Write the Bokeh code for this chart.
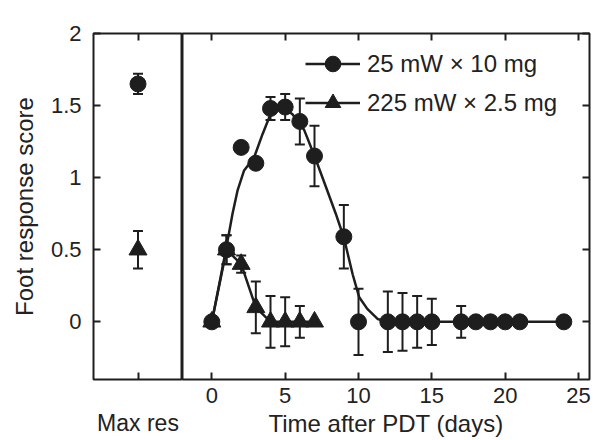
from bokeh.plotting import figure
from bokeh.models import (Range1d, FixedTicker, LinearAxis, Whisker, TeeHead,
                          ColumnDataSource, Legend, LegendItem)
from bokeh.layouts import row
from bokeh.embed import file_html
from bokeh.resources import INLINE

# ---------------- data ----------------
days_circle = [0, 1, 2, 3, 4, 5, 6, 7, 9, 10, 12, 13, 14, 15, 17, 18, 19, 20, 21, 24]
score_circle = [0, 0.5, 1.21, 1.1, 1.48, 1.49, 1.39, 1.15, 0.59, 0, 0, 0, 0, 0, 0, 0, 0, 0, 0, 0]
err_circle = [0, 0.1, 0, 0, 0.08, 0.09, 0.16, 0.21, 0.22, 0.23, 0.21, 0.2, 0.18, 0.16, 0.11, 0, 0, 0, 0, 0]

days_tri = [0, 1, 2, 3, 4, 5, 6, 7]
score_tri = [0, 0.5, 0.4, 0.1, 0, 0, 0, 0]
err_tri = [0, 0.1, 0.06, 0.18, 0.18, 0.17, 0.11, 0]

# smooth curve drawn through the 25 mW x 10 mg series
fit_days = [0, 0.6, 1.07, 1.41, 1.75, 2.2, 2.88, 3.45, 4.0, 4.8, 5.5, 6.3, 7.0, 7.8,
            8.45, 9.0, 9.6, 10.05, 10.6, 11.3, 12, 24]
fit_score = [0, 0.31, 0.56, 0.75, 0.91, 1.05, 1.14, 1.30, 1.44, 1.49, 1.44, 1.33, 1.15,
             0.93, 0.75, 0.585, 0.33, 0.17, 0.09, 0.02, 0, 0]

max_res_label = "Max res"
max_res_circle = [1.65]
max_res_circle_err = [0.07]
max_res_tri = [0.5]
max_res_tri_err = [0.13]

series_labels = ["25 mW \u00d7 10 mg", "225 mW \u00d7 2.5 mg"]
y_ticks = [0, 0.5, 1, 1.5, 2]
y_tick_labels = ["0", "0.5", "1", "1.5", "2"]
x_ticks = [0, 5, 10, 15, 20, 25]

# ---------------- styling ----------------
FONT = "Liberation Sans"
INK = "#1e1e1e"
TXT = "#222222"
TICK_FS = "22px"
TITLE_FS = "24px"
LW = 2.5

def style_axis(ax, labels=True):
    ax.major_tick_in = 7
    ax.major_tick_out = 0
    ax.minor_tick_in = 0
    ax.minor_tick_out = 0
    ax.major_tick_line_width = 2
    ax.major_tick_line_color = INK
    ax.axis_line_color = None
    ax.major_label_text_font = FONT
    ax.major_label_text_color = TXT
    ax.major_label_text_line_height = 1.0
    ax.axis_label_text_font = FONT
    ax.axis_label_text_color = TXT
    ax.axis_label_text_font_style = "normal"
    ax.axis_label_text_font_size = TITLE_FS
    ax.axis_label_text_line_height = 1.0
    if labels:
        ax.major_label_text_font_size = TICK_FS
    else:
        ax.major_label_text_font_size = "0px"
        ax.major_label_standoff = 0

def common(p):
    p.outline_line_color = INK
    p.outline_line_width = 2
    p.outline_line_alpha = 1
    p.xgrid.visible = False
    p.ygrid.visible = False
    p.background_fill_color = "white"
    p.border_fill_color = "white"

# ---------------- left panel (Max res) ----------------
p1 = figure(width=182, height=440, x_range=Range1d(0, 1), y_range=Range1d(-0.4, 2),
            output_backend="svg", toolbar_location=None,
            min_border_left=93, min_border_right=0, min_border_top=33, min_border_bottom=61)
common(p1)

yax = p1.yaxis[0]
yax.ticker = FixedTicker(ticks=y_ticks)
yax.major_label_overrides = {t: l for t, l in zip(y_ticks, y_tick_labels)}
yax.axis_label = "Foot response score"
style_axis(yax)
yax.major_label_standoff = 12
yax.axis_label_standoff = 10

xax1 = p1.xaxis[0]
xax1.ticker = FixedTicker(ticks=[0.5])
xax1.major_label_overrides = {0.5: max_res_label}
style_axis(xax1)
xax1.major_label_text_font_size = "23px"
xax1.major_label_standoff = 30

top1 = LinearAxis(ticker=FixedTicker(ticks=[0.5]), major_label_overrides={0.5: ""})
style_axis(top1, labels=False)
p1.add_layout(top1, "above")

src_mc = ColumnDataSource(dict(x=[0.5], y=max_res_circle,
                               upper=[v + e for v, e in zip(max_res_circle, max_res_circle_err)],
                               lower=[v - e for v, e in zip(max_res_circle, max_res_circle_err)]))
src_mt = ColumnDataSource(dict(x=[0.5], y=max_res_tri,
                               upper=[v + e for v, e in zip(max_res_tri, max_res_tri_err)],
                               lower=[v - e for v, e in zip(max_res_tri, max_res_tri_err)]))
for s in (src_mc, src_mt):
    w = Whisker(base="x", upper="upper", lower="lower", source=s, dimension="height",
                line_width=2, line_color=INK,
                upper_head=TeeHead(size=10, line_width=2, line_color=INK),
                lower_head=TeeHead(size=10, line_width=2, line_color=INK))
    p1.add_layout(w)
p1.scatter("x", "y", source=src_mc, marker="circle", size=16, fill_color=INK, line_color=INK)
p1.scatter("x", "y", source=src_mt, marker="triangle", size=18, fill_color=INK, line_color=INK)

# ---------------- right panel (time course) ----------------
p2 = figure(width=413, height=440, x_range=Range1d(-2, 25.75), y_range=Range1d(-0.4, 2),
            output_backend="svg", toolbar_location=None, y_axis_location=None,
            min_border_left=0, min_border_right=6, min_border_top=33, min_border_bottom=61)
common(p2)

xax2 = p2.xaxis[0]
xax2.ticker = FixedTicker(ticks=x_ticks)
xax2.axis_label = "Time after PDT (days)"
style_axis(xax2)
xax2.major_label_standoff = 8
xax2.axis_label_standoff = 4

top2 = LinearAxis(ticker=FixedTicker(ticks=x_ticks), major_label_overrides={t: "" for t in x_ticks})
style_axis(top2, labels=False)
p2.add_layout(top2, "above")

right2 = LinearAxis(ticker=FixedTicker(ticks=y_ticks), major_label_overrides={t: "" for t in y_ticks})
style_axis(right2, labels=False)
p2.add_layout(right2, "right")

fit_line = p2.line(fit_days, fit_score, line_width=LW, line_color=INK)
tri_line = p2.line(days_tri, score_tri, line_width=LW, line_color=INK)

def whisker_source(xs, ys, es):
    keep = [(x, y, e) for x, y, e in zip(xs, ys, es) if e > 0]
    return ColumnDataSource(dict(x=[k[0] for k in keep],
                                 upper=[k[1] + k[2] for k in keep],
                                 lower=[k[1] - k[2] for k in keep]))

for s in (whisker_source(days_circle, score_circle, err_circle),
          whisker_source(days_tri, score_tri, err_tri)):
    w = Whisker(base="x", upper="upper", lower="lower", source=s, dimension="height",
                line_width=2, line_color=INK,
                upper_head=TeeHead(size=10, line_width=2, line_color=INK),
                lower_head=TeeHead(size=10, line_width=2, line_color=INK))
    p2.add_layout(w)

circ = p2.scatter(days_circle, score_circle, marker="circle", size=16, fill_color=INK, line_color=INK)
tri = p2.scatter(days_tri, score_tri, marker="triangle", size=18, fill_color=INK, line_color=INK)

legend = Legend(items=[LegendItem(label=series_labels[0], renderers=[fit_line, circ]),
                       LegendItem(label=series_labels[1], renderers=[tri_line, tri])],
                location=(123, 257))
legend.glyph_width = 55
legend.glyph_height = 39
legend.label_height = 39
legend.spacing = 0
legend.padding = 0
legend.margin = 0
legend.border_line_color = None
legend.background_fill_alpha = 0
legend.label_text_font = FONT
legend.label_text_font_size = "24px"
legend.label_text_color = TXT
legend.label_standoff = 7
p2.add_layout(legend)

layout = row(p1, p2, spacing=0)
open("out.html", "w").write(file_html(layout, INLINE))
